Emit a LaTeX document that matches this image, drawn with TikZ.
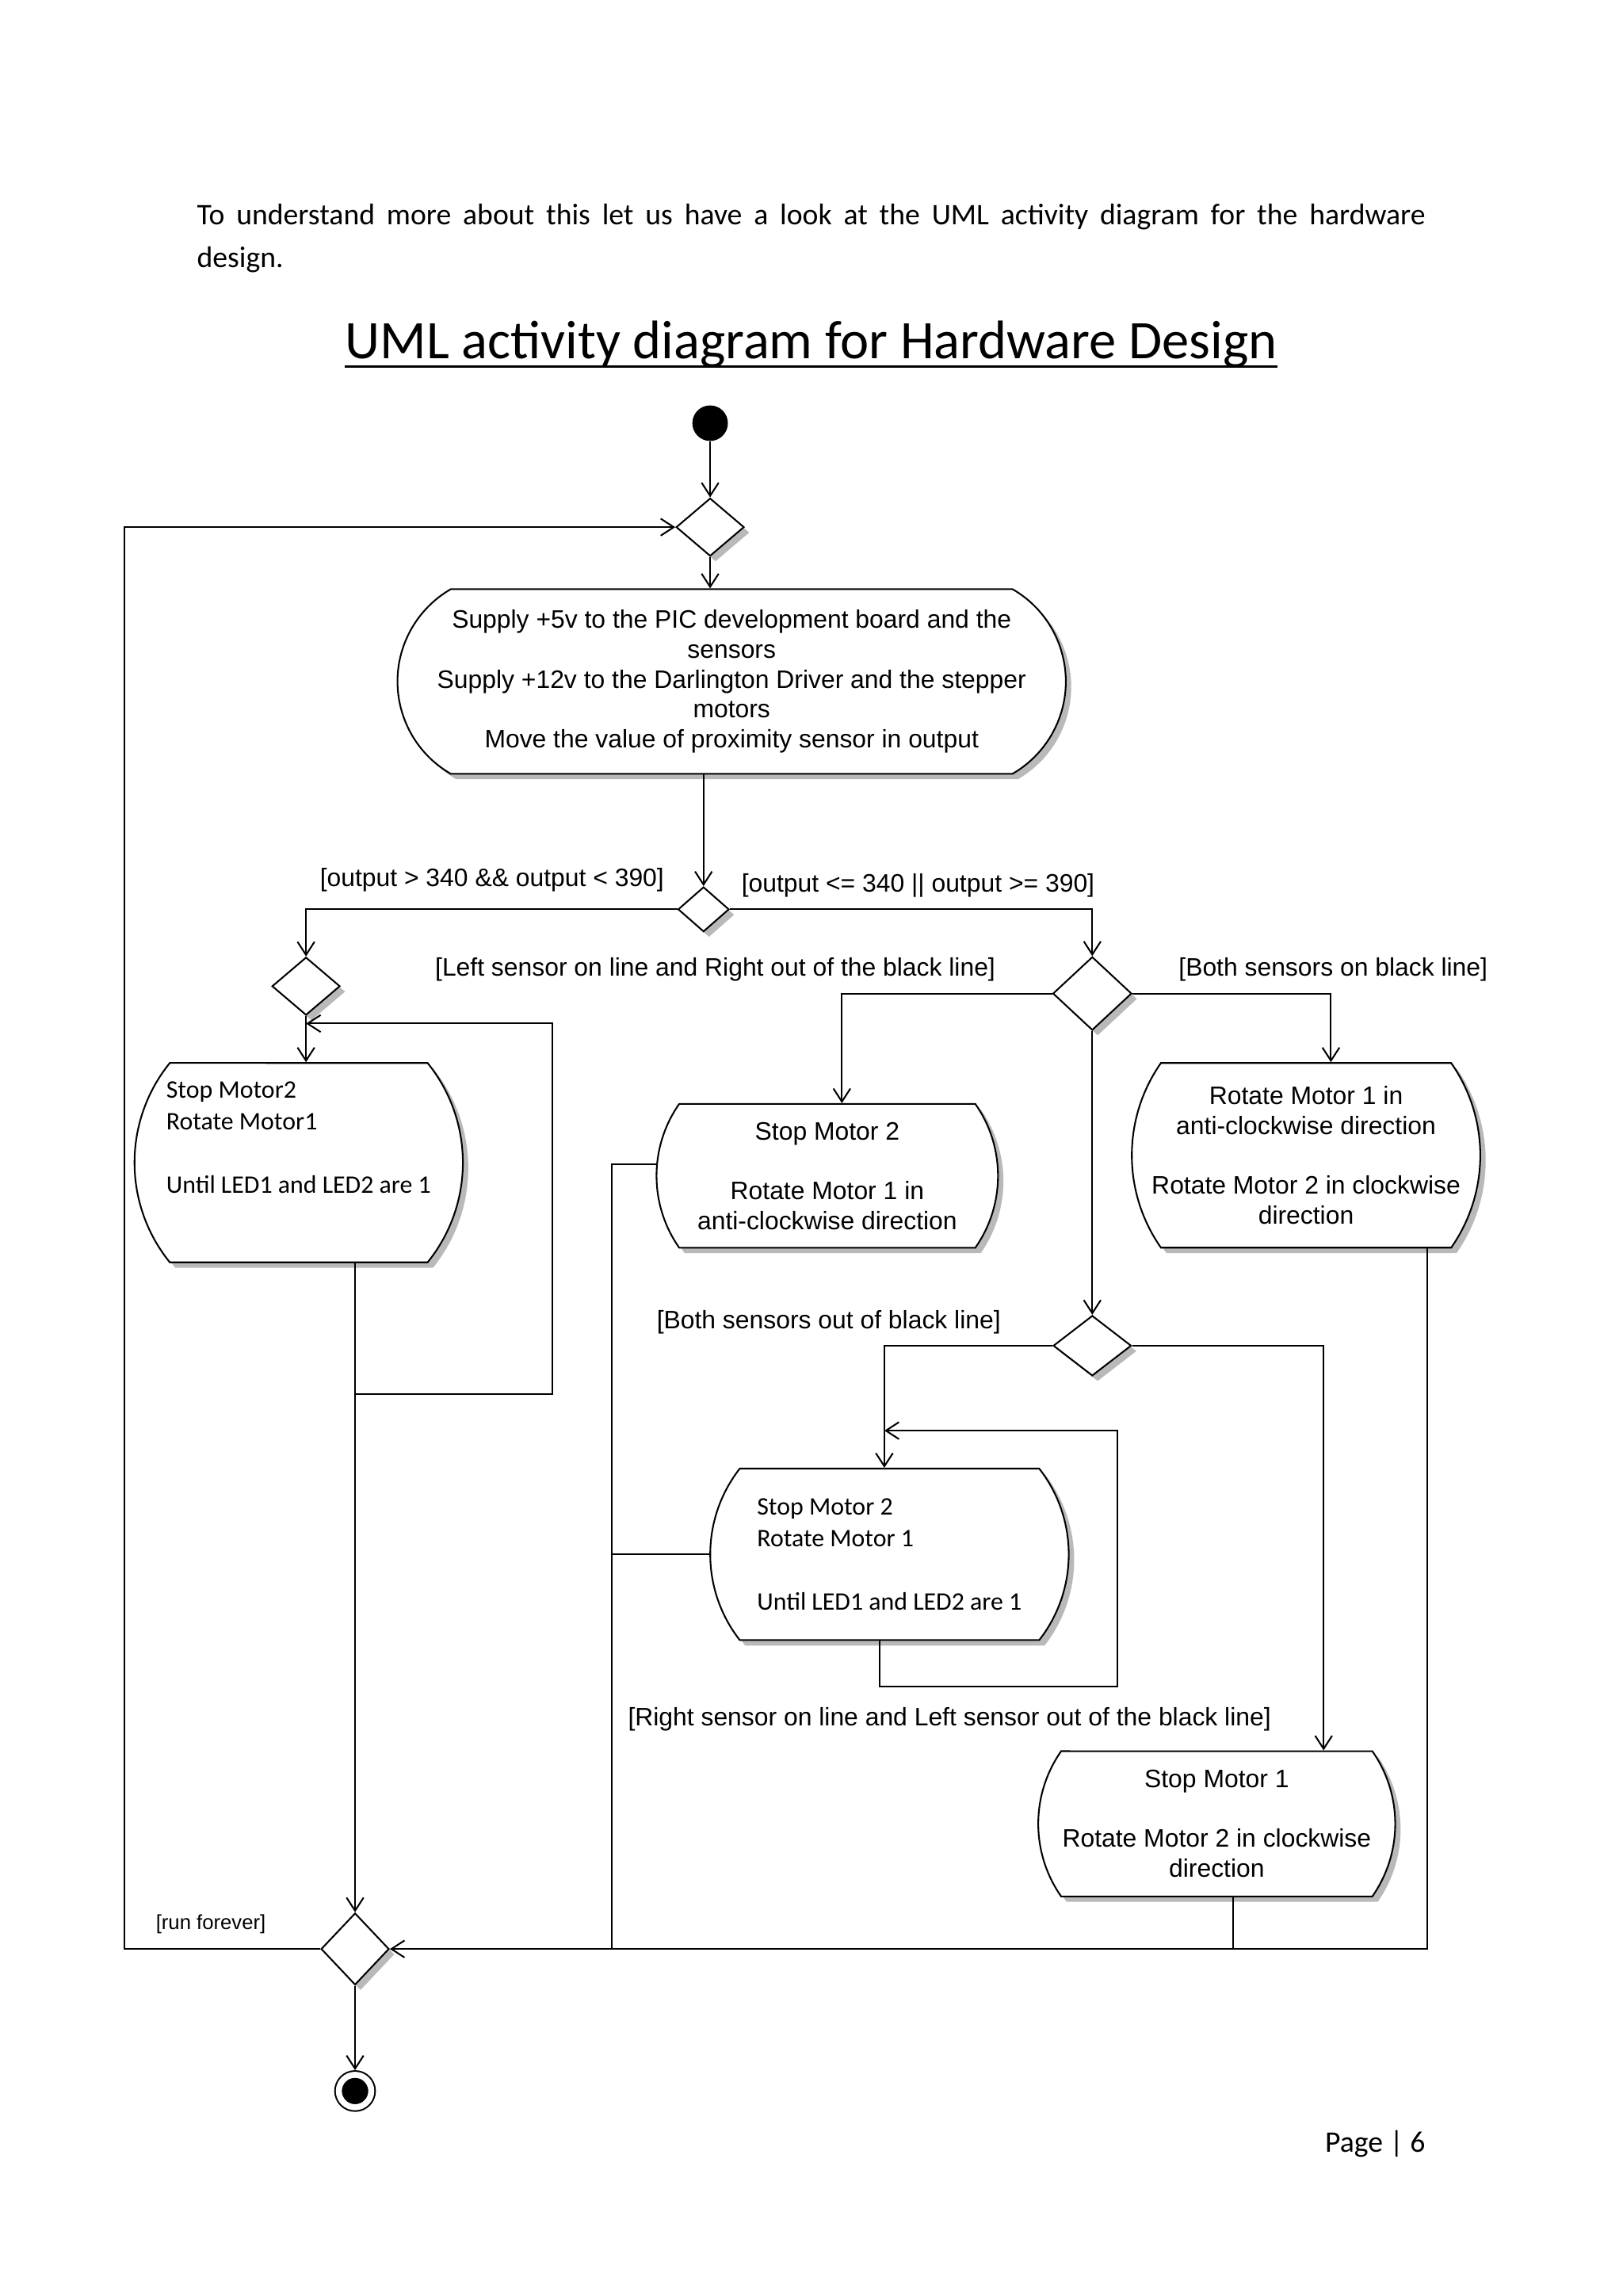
\documentclass[tikz,border=0pt]{standalone}
\usepackage{fontspec}
\setmainfont{Carlito}
\newfontfamily\arialf{Liberation Sans}
\usetikzlibrary{arrows.meta,shapes.geometric,shapes.misc,shadows}

\tikzset{
  sh/.style={drop shadow={shadow xshift=0.07cm,shadow yshift=-0.07cm,fill=gray!55,opacity=1}},
  act/.style={rounded rectangle, rounded rectangle arc length=70, draw, fill=white, inner sep=0pt,
    align=center, font=\arialf\fontsize{9.3}{11}\selectfont, sh},
  actc/.style={act, align=left, font=\fontsize{9.3}{11.6}\selectfont},
  dec/.style={diamond, draw, fill=white, inner sep=0pt, sh},
  guard/.style={inner sep=0pt, font=\arialf\fontsize{9.3}{11}\selectfont},
  initnode/.style={circle, fill=black, minimum size=0.46cm, inner sep=0pt},
  endnode/.style={circle, draw, fill=black, minimum size=0.42cm, inner sep=0pt,
    double=white, double distance=2.2pt, outer sep=1.7pt}
}

\begin{document}
\begin{tikzpicture}[x=0.018953cm,y=-0.018953cm,line width=0.6pt,
  >={Straight Barb[length=1.7mm,width=2.2mm]}]
\fill[white] (0,0) rectangle (1108,1568);
\useasboundingbox (0,0) rectangle (1108,1568);

% page text
\node[anchor=base west, text width=15.9cm, align=justify, inner sep=0pt,
  font=\fontsize{11}{15.8}\selectfont] (intro) at (134,153.3)
  {To understand more about this let us have a look at the UML activity diagram for the hardware\linebreak design.};
\node[anchor=base, inner sep=0pt, font=\fontsize{20}{24}\selectfont] (title) at (554,244.7)
  {UML activity diagram for Hardware Design};
\draw[line width=1pt] ([yshift=-3pt]title.base west) -- ([yshift=-3pt]title.base east);
\node[anchor=base east, inner sep=0pt, font=\fontsize{11}{13}\selectfont] (page) at (974,1469.5) {Page | 6};

% nodes
\node[initnode] (init) at (485,289) {};
\node[dec, minimum width=0.88cm, minimum height=0.75cm] (d1) at (485,360) {};
\node[act, minimum width=8.65cm, minimum height=2.39cm, rounded rectangle arc length=120] (act1) at (499.7,465.4)
  {Supply +5v to the PIC development board and the\\sensors\\Supply +12v to the Darlington Driver and the stepper\\motors\\Move the value of proximity sensor in output};
\node[dec, minimum width=0.66cm, minimum height=0.58cm] (d2) at (480.5,621) {};
\node[dec, minimum width=0.88cm, minimum height=0.75cm] (d3) at (209,673.5) {};
\node[dec, minimum width=1.02cm, minimum height=0.95cm] (d4) at (746,678.5) {};
\node[actc, minimum width=4.25cm, minimum height=2.58cm, rounded rectangle arc length=78] (actL) at (204,794)
  {Stop Motor2\\Rotate Motor1\\[11.6pt]Until LED1 and LED2 are 1\\[7pt]\mbox{}};
\node[act, minimum width=4.42cm, minimum height=1.86cm] (actM1) at (565,803)
  {Stop Motor 2\\[11pt]Rotate Motor 1 in\\anti-clockwise direction};
\node[act, minimum width=4.51cm, minimum height=2.39cm] (actR1) at (892,789)
  {Rotate Motor 1 in\\anti-clockwise direction\\[11pt]Rotate Motor 2 in clockwise\\direction};
\node[dec, minimum width=1.01cm, minimum height=0.78cm] (d5) at (746,919) {};
\node[actc, minimum width=4.64cm, minimum height=2.22cm, rounded rectangle arc length=76] (actM2) at (607.5,1061.5)
  {Stop Motor 2\\Rotate Motor 1\\[11.6pt]Until LED1 and LED2 are 1};
\node[act, minimum width=4.62cm, minimum height=1.88cm] (actM3) at (831,1245.5)
  {Stop Motor 1\\[11pt]Rotate Motor 2 in clockwise\\direction};
\node[dec, minimum width=0.88cm, minimum height=0.93cm] (d6) at (242.5,1331) {};
\node[endnode] (fin) at (242.5,1428) {};

% guards
\node[guard] (g1) at (336,601) {[output > 340 \&\& output < 390]};
\node[guard] (g2) at (627,605) {[output <= 340 || output >= 390]};
\node[guard] (g3) at (488.5,662) {[Left sensor on line and Right out of the black line]};
\node[guard] (g4) at (910.5,662) {[Both sensors on black line]};
\node[guard] (g5) at (566,903) {[Both sensors out of black line]};
\node[guard] (g6) at (648.5,1174) {[Right sensor on line and Left sensor out of the black line]};
\node[guard, font=\arialf\fontsize{7.5}{9}\selectfont] (g7) at (144,1314) {[run forever]};

% corners
\coordinate (lp) at (85,360);
\coordinate (kM1) at (575,678.5);
\coordinate (kR1) at (909,678.5);
\coordinate (kM2) at (604,919);
\coordinate (kM3) at (904,919);
\coordinate (lL1) at (242,952);
\coordinate (lL2) at (377,699);
\coordinate (lM1) at (601,1152);
\coordinate (lM2) at (763,977);
\coordinate (bM) at (418,1331);
\coordinate (bM3) at (842,1331);
\coordinate (bR1) at (975,1331);

% flows
\draw[->] (init) -- (d1.north);
\draw[->] (d1.south) -- (d1.south |- act1.north);
\draw[->] (d2.north |- act1.south) -- (d2.north);
\draw[->] (d2.west) -| (d3.north);
\draw[->] (d2.east) -| (d4.north);
\draw[->] (d3.south) -- (d3.south |- actL.north);
\draw[->] (lL1) -| (lL2) -- (lL2 -| d3.south);
\draw[->] (d6.north |- actL.south) -- (d6.north);
\draw[->] (d4.west) -- (kM1) -- (kM1 |- actM1.north);
\draw[->] (d4.east) -- (kR1) -- (kR1 |- actR1.north);
\draw[->] (d4.south) -- (d5.north);
\draw[->] (d5.west) -- (kM2) -- (kM2 |- actM2.north);
\draw[->] (d5.east) -- (kM3) -- (kM3 |- actM3.north);
\draw[->] (lM1 |- actM2.south) -- (lM1) -| (lM2) -- (lM2 -| kM2);
\draw (actM1.176) -| (bM);
\draw (actM2.west) -- (actM2.west -| bM);
\draw (bM3 |- actM3.south) -- (bM3);
\draw[->] (bR1 |- actR1.south) -- (bR1) -- (d6.east);
\draw[->] (d6.west) -| (lp) -- (d1.west);
\draw[->] (d6.south) -- (fin);
\end{tikzpicture}
\end{document}
